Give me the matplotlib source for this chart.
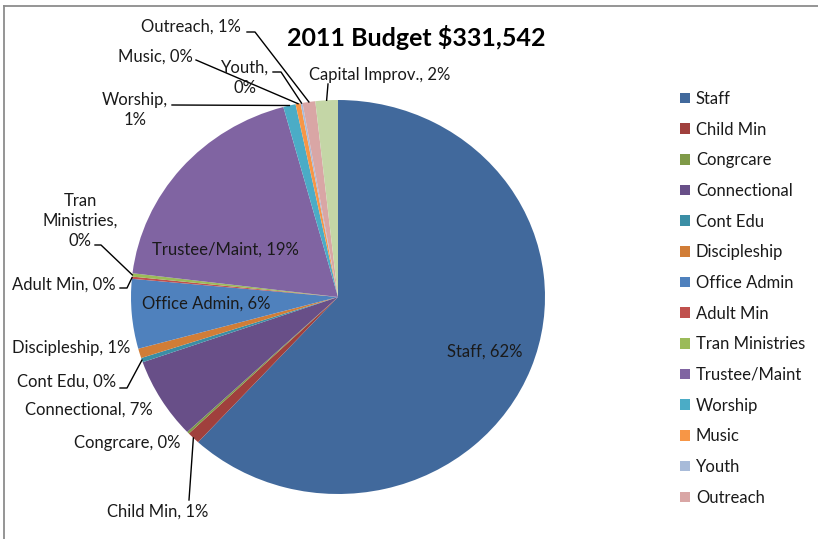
import numpy as np
import matplotlib.pyplot as plt
from matplotlib.lines import Line2D

plt.rcParams['font.family'] = ['Lato', 'DejaVu Sans']

# budget lines (dollars), in order round the pie from 12 o'clock, clockwise
categories = ["Staff", "Child Min", "Congrcare", "Connectional", "Cont Edu",
              "Discipleship", "Office Admin", "Adult Min", "Tran Ministries",
              "Trustee/Maint", "Worship", "Music", "Youth", "Outreach",
              "Capital Improv."]
amounts = [204942, 3300, 600, 22000, 1200,
           2600, 18900, 600, 900,
           62400, 3200, 1300, 500, 3300,
           5800]
# short names shown on the slice labels (some wrap)
label_names = ["Staff", "Child Min", "Congrcare", "Connectional", "Cont Edu",
               "Discipleship", "Office Admin", "Adult Min", "Tran\nMinistries,\n",
               "Trustee/Maint", "Worship,\n", "Music", "Youth,\n", "Outreach",
               "Capital Improv."]
title = "2011 Budget $331,542"

colors = ["#41699c", "#a0403d", "#7f9a48", "#684f88", "#3b8ea5",
          "#d17d37", "#4f81bd", "#c0504d", "#9bbb59",
          "#8064a2", "#4bacc6", "#f79646", "#a8bbd9", "#d9a6a5",
          "#c4d6a6"]

W, H = 818, 539
fig = plt.figure(figsize=(W / 100, H / 100), dpi=100)

# outer chart border (left and top visible)
fig.add_artist(Line2D([4 / W, 4 / W], [0, 1 - 6 / H], color="#8c8c8c", lw=1.3))
fig.add_artist(Line2D([4 / W, 1], [1 - 6 / H, 1 - 6 / H], color="#8c8c8c", lw=1.3))

# pie is slightly wider than tall in the reference
cx, cy, rx, ry = 338, 297, 207, 197
ax = fig.add_axes([(cx - rx) / W, 1 - (cy + ry) / H, 2 * rx / W, 2 * ry / H])
wedges, _ = ax.pie(amounts, colors=colors, startangle=90, counterclock=False,
                   wedgeprops=dict(linewidth=0))
ax.set_aspect('auto')
ax.set_xlim(-1, 1)
ax.set_ylim(-1, 1)
ax.axis('off')

total = sum(amounts)
pcts = [round(100 * a / total) for a in amounts]


def px(x, y):
    # pixel position -> pie data coords
    return (x - cx) / rx, (cy - y) / ry


# label layout: (text center px, leader stub px or None)
layout = {
    "Staff": ((485, 352), None),
    "Child Min": ((158, 512), [(189, 500)]),
    "Congrcare": ((127, 443), None),
    "Connectional": ((89, 410), None),
    "Cont Edu": ((67, 382), [(120, 388), (127, 388)]),
    "Discipleship": ((71, 348), None),
    "Office Admin": ((206, 304), None),
    "Adult Min": ((64, 285), [(120, 288), (127, 288)]),
    "Tran Ministries": ((80, 221), [(95, 245), (101, 245)]),
    "Trustee/Maint": ((225, 250), None),
    "Worship": ((135, 110), [(172, 105)]),
    "Music": ((155, 57), [(196, 60)]),
    "Youth": ((245, 78), [(273, 72), (281, 72)]),
    "Outreach": ((191, 27), [(247, 32), (255, 32)]),
    "Capital Improv.": ((380, 75), [(328, 84)]),
}

for w, cat, name, p in zip(wedges, categories, label_names, pcts):
    (tx, ty), stub = layout[cat]
    sep = "" if name.endswith("\n") else ", "
    text = f"{name}{sep}{p}%"
    lx, ly = px(tx, ty)
    ax.text(lx, ly, text, ha="center", va="center", fontsize=12, color="#1a1a1a",
            linespacing=1.3, clip_on=False)
    if stub is not None:
        mid = np.deg2rad((w.theta1 + w.theta2) / 2)
        pts = [px(*s) for s in stub] + [(np.cos(mid), np.sin(mid))]
        xs, ys = zip(*pts)
        ax.plot(xs, ys, color="black", lw=1, clip_on=False)

fig.text(416 / W, 1 - 37 / H, title, ha="center", va="center",
         fontsize=18, fontweight="bold")

leg = fig.legend(wedges[:14], categories[:14], loc="upper left",
                 bbox_to_anchor=(680 / W, 1 - 91 / H), frameon=False,
                 fontsize=12, handlelength=0.6, handleheight=0.6,
                 handletextpad=0.35, labelspacing=0.88, borderaxespad=0,
                 borderpad=0)
for t in leg.get_texts():
    t.set_color("#1a1a1a")

fig.savefig("out.png", dpi=100, facecolor="white")
